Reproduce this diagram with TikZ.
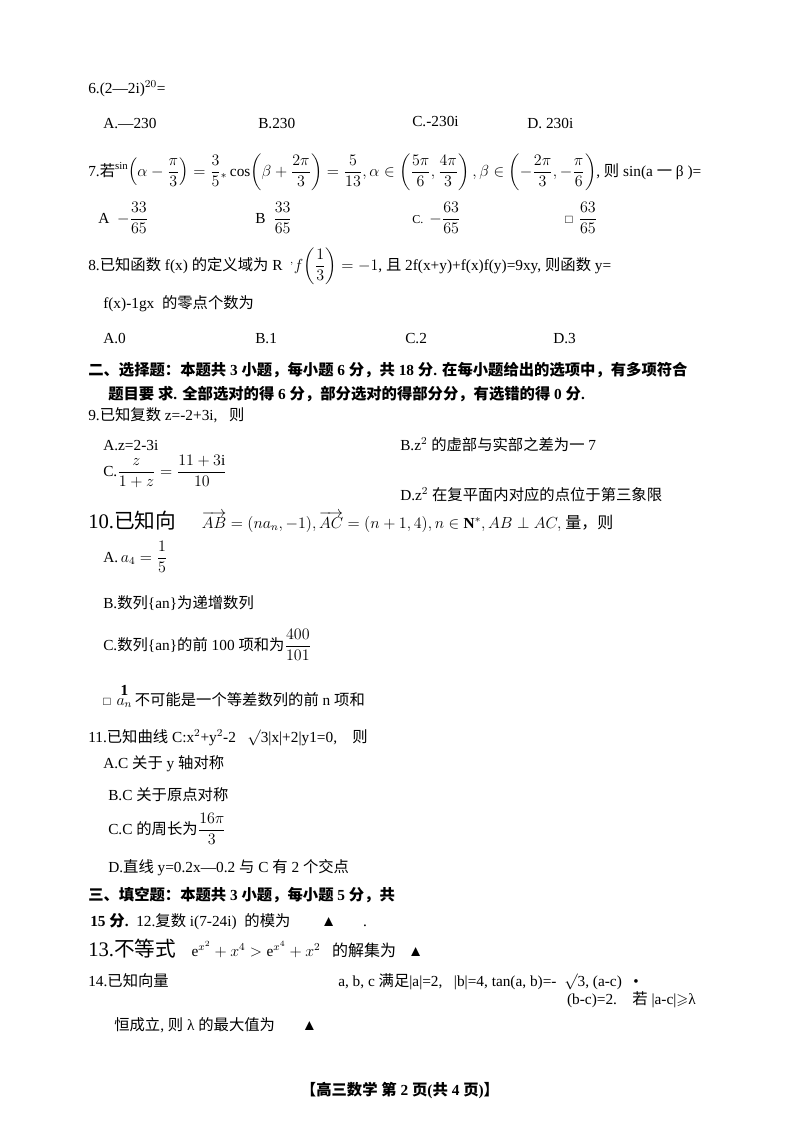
\documentclass[tikz,border=0pt]{standalone}
\usepackage{amsmath,amssymb}
\usepackage{fontspec}
\setmainfont{Liberation Serif}
\newfontfamily\cjk{Noto Sans CJK SC}
\newfontfamily\cjkb{Noto Sans CJK SC Bold}
\let\cjkcur\cjk
\newcommand\nsz{\fontsize{11.5}{13}\selectfont}
\XeTeXinterchartokenstate=1
\newXeTeXintercharclass\cjkclass
\count255="4E00
\loop\ifnum\count255<"A000 \XeTeXcharclass\count255=\cjkclass \advance\count255 by 1 \repeat
\count255="3000
\loop\ifnum\count255<"3040 \XeTeXcharclass\count255=\cjkclass \advance\count255 by 1 \repeat
\count255="FF00
\loop\ifnum\count255<"FFF0 \XeTeXcharclass\count255=\cjkclass \advance\count255 by 1 \repeat
\XeTeXinterchartoks 0 \cjkclass {\begingroup\cjkcur}
\XeTeXinterchartoks 4095 \cjkclass {\begingroup\cjkcur}
\XeTeXinterchartoks \cjkclass 0 {\endgroup}
\XeTeXinterchartoks \cjkclass 4095 {\endgroup}
\begin{document}
\begin{tikzpicture}[x=0.75pt,y=-0.75pt,
  t/.style={anchor=base west,inner sep=0pt,font=\nsz},
  bt/.style={t,font=\nsz\bfseries\let\cjkcur\cjkb},
  big/.style={anchor=base west,inner sep=0pt,font=\fontsize{15.5}{17}\selectfont}]
\useasboundingbox[fill=white] (0,0) rectangle (800,1132);
\node[t] (q6) at (88,93) {6.(2—2i)$^{20}$=};
\node[t] (q6a) at (103,128) {A.—230};
\node[t] (q6b) at (258,128) {B.230};
\node[t] (q6c) at (412,126) {C.-230i};
\node[t] (q6d) at (527,128) {D.\ 230i};
\node[t] (q7) at (88,176) {7.若$\displaystyle^{\sin}\!\left(\alpha-\frac{\pi}{3}\right)=\frac{3}{5}{}_{*}\cos\!\left(\beta+\frac{2\pi}{3}\right)=\frac{5}{13},\alpha\in\left(\frac{5\pi}{6},\frac{4\pi}{3}\right),\beta\in\left(-\frac{2\pi}{3},-\frac{\pi}{6}\right)$, 则 sin(a 一 β )=};
\node[t] (q7a) at (98,223) {A\ \ $\displaystyle-\frac{33}{65}$};
\node[t] (q7b) at (255,223) {B\ \ $\displaystyle\frac{33}{65}$};
\node[t] (q7c) at (412,223) {\small C.\ \ \nsz$\displaystyle-\frac{63}{65}$};
\node[t] (q7d) at (565,223) {\small □\ \ \nsz$\displaystyle\frac{63}{65}$};
\node[t] (q8) at (88,270) {8.已知函数 f(x) 的定义域为 R\ \ $\displaystyle^{,}f\!\left(\frac{1}{3}\right)=-1$, 且 2f(x+y)+f(x)f(y)=9xy, 则函数 y=};
\node[t] (q8b) at (103,308) {f(x)-1gx\ \ 的零点个数为};
\node[t] (q8o1) at (103,343) {A.0};
\node[t] (q8o2) at (255,343) {B.1};
\node[t] (q8o3) at (405,343) {C.2};
\node[t] (q8o4) at (553,343) {D.3};
\node[bt] (s2) at (88,375) {二、选择题：本题共 3 小题，每小题 6 分，共 18 分. 在每小题给出的选项中，有多项符合};
\node[bt] (s2b) at (108,399) {题目要\ 求. 全部选对的得 6 分，部分选对的得部分分，有选错的得 0 分.};
\node[t] (q9) at (88,420) {9.已知复数 z=-2+3i,\ \ \ 则};
\node[t] (q9a) at (103,450) {A.z=2-3i};
\node[t] (q9b) at (400,450) {B.z$^{2}$ 的虚部与实部之差为一 7};
\node[t] (q9c) at (103,476) {C.$\dfrac{z}{1+z}=\dfrac{11+3\mathrm{i}}{10}$};
\node[t] (q9d) at (400,500) {D.z$^{2}$ 在复平面内对应的点位于第三象限};
\node[big] (q10) at (88,528) {10.已知向\ \ \ \ \ \nsz$\overrightarrow{AB}=(na_n,-1),\overrightarrow{AC}=(n+1,4),n\in\mathbf{N}^{*},AB\perp AC,$\ \large 量，则};
\node[t] (q10a) at (103,562) {A.$\,a_4=\dfrac{1}{5}$};
\node[t] (q10b) at (103,608) {B.数列\{an\}为递增数列};
\node[t] (q10c) at (103,650) {C.数列\{an\}的前 100 项和为$\dfrac{400}{101}$};
\node[t] (q10d) at (103,705) {\small □\ \ \nsz$\overset{\textstyle\mathbf{1}}{a_n}$\,不可能是一个等差数列的前 n 项和};
\node[t] (q11) at (88,742) {11.已知曲线 C:x$^{2}$+y$^{2}$-2\ \ \ $\surd$3|x|+2|y1=0,\ \ \ \ 则};
\node[t] (q11a) at (103,768) {A.C 关于 y 轴对称};
\node[t] (q11b) at (108,800) {B.C 关于原点对称};
\node[t] (q11c) at (108,834) {C.C 的周长为$\dfrac{16\pi}{3}$};
\node[t] (q11d) at (108,872) {D.直线 y=0.2x—0.2 与 C 有 2 个交点};
\node[bt] (s3) at (88,900) {三、填空题：本题共 3 小题，每小题 5 分，共};
\node[t] (s3b) at (90,926) {\bfseries\let\cjkcur\cjkb 15 分.\ \ \mdseries\let\cjkcur\cjk 12.复数 i(7-24i)\ \ 的模为\ \ \ \ \ \ \ \ ▲\ \ \ \ \ \ \ .};
\node[big] (q13) at (88,956) {13.不等式\ \ \ \nsz$\mathrm{e}^{x^2}+x^4>\mathrm{e}^{x^4}+x^2$\ \ \ \large 的解集为\ \ \ \nsz▲};
\node[t] (q14) at (88,986) {14.已知向量};
\node[t] (q14b) at (338,986) {a, b, c 满足|a|=2,\ \ \ |b|=4, tan(a, b)=-\ \ $\surd$3, (a-c)\ \ \ •};
\node[t,anchor=base east] (q14c) at (696,1004) {(b-c)=2.\ \ \ \ 若 |a-c|$\geqslant$λ};
\node[t] (q14d) at (114,1030) {恒成立, 则 λ 的最大值为\ \ \ \ \ \ \ ▲};
\node[bt,anchor=base] (foot) at (400,1095) {【高三数学 第 2 页(共 4 页)】};
\end{tikzpicture}
\end{document}
